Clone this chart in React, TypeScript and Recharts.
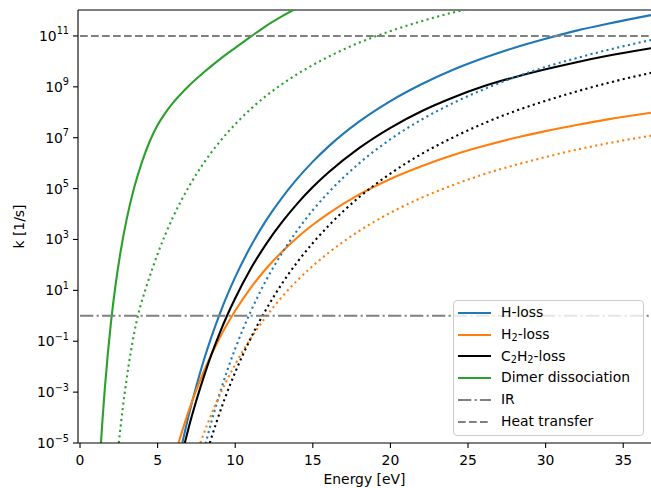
import React from "react";
import { LineChart, Line, XAxis, YAxis, ReferenceLine, Legend } from "recharts";

// energies [eV] and log10(k [1/s])
const hLossE = [6.59, 7.0, 7.5, 8.0, 8.5, 9.0, 9.5, 10, 11, 12, 13, 14, 15, 16, 18, 20, 22, 24, 26, 28, 30, 32, 34, 36.79];
const hLossK = [-5.0, -3.92, -2.75, -1.7, -0.77, 0.07, 0.83, 1.52, 2.73, 3.76, 4.63, 5.39, 6.06, 6.65, 7.64, 8.44, 9.1, 9.66, 10.13, 10.54, 10.89, 11.21, 11.48, 11.82];

const h2LossE = [6.35, 6.8, 7.3, 8, 9, 10, 11, 12, 13, 14, 15, 16, 18, 20, 22, 24, 26, 28, 30, 32, 34, 36.79];
const h2LossK = [-5.0, -4.11, -3.23, -2.15, -0.86, 0.2, 1.1, 1.86, 2.51, 3.08, 3.58, 4.02, 4.77, 5.38, 5.88, 6.31, 6.67, 6.99, 7.26, 7.5, 7.72, 7.98];

const c2h2LossE = [6.75, 7.0, 7.5, 8, 8.5, 9, 9.5, 10, 11, 12, 13, 14, 15, 16, 18, 20, 22, 24, 26, 28, 30, 32, 34, 36.79];
const c2h2LossK = [-5.0, -4.4, -3.32, -2.35, -1.47, -0.68, 0.04, 0.69, 1.85, 2.83, 3.67, 4.41, 5.06, 5.63, 6.6, 7.39, 8.04, 8.57, 9.02, 9.38, 9.69, 9.97, 10.22, 10.52];

const dimerE = [1.35, 1.45, 1.6, 1.8, 2.0, 2.3, 2.6, 3.0, 3.5, 4.0, 4.5, 5.0, 5.5, 6.0, 6.5, 7.0, 8.0, 9.0, 10.0, 11.0, 12.0, 13.0, 13.74, 14.5];
const dimerK = [-5.0, -4.07, -2.84, -1.43, -0.23, 1.26, 2.47, 3.78, 5.06, 6.06, 6.87, 7.5, 7.98, 8.38, 8.72, 9.03, 9.58, 10.08, 10.53, 10.97, 11.4, 11.77, 12.02, 12.26];

// dotted curves
const hLossDotE = [8.0, 8.5, 9, 9.5, 10, 11, 12, 13, 14, 15, 16, 18, 20, 22, 24, 26, 28, 30, 32, 34, 36.79];
const hLossDotK = [-5.24, -4.09, -3.06, -2.13, -1.29, 0.17, 1.41, 2.45, 3.36, 4.15, 4.84, 6.0, 6.94, 7.71, 8.35, 8.9, 9.37, 9.78, 10.13, 10.45, 10.84];

const h2LossDotE = [7.75, 8.2, 8.8, 9.5, 10.5, 11.5, 12.5, 14, 15, 16, 18, 20, 22, 24, 26, 28, 30, 32, 34, 36.79];
const h2LossDotK = [-5.0, -4.27, -3.39, -2.49, -1.38, -0.44, 0.37, 1.39, 1.96, 2.47, 3.34, 4.05, 4.64, 5.13, 5.56, 5.92, 6.24, 6.53, 6.78, 7.08];

const c2h2LossDotE = [8.36, 8.8, 9.3, 10, 11, 12, 13, 14, 15, 16, 18, 20, 22, 24, 26, 28, 30, 32, 34, 36.79];
const c2h2LossDotK = [-5.0, -4.17, -3.3, -2.22, -0.88, 0.26, 1.25, 2.11, 2.86, 3.53, 4.67, 5.59, 6.36, 7.0, 7.56, 8.04, 8.45, 8.82, 9.15, 9.55];

const dimerDotE = [2.5, 2.75, 3.0, 3.25, 3.5, 3.75, 4.3, 5, 6, 7, 8, 9, 10, 11, 12, 13, 14, 16, 18, 20, 22, 24.5, 25];
const dimerDotK = [-5.0, -3.65, -2.5, -1.5, -0.65, 0.05, 1.19, 2.43, 3.89, 5.06, 6.03, 6.84, 7.53, 8.13, 8.65, 9.1, 9.5, 10.18, 10.74, 11.19, 11.58, 11.99, 12.06];

const irLogK = 0;
const heatLogK = 11;

const xTicks = [0, 5, 10, 15, 20, 25, 30, 35];
const yTicks = [-5, -3, -1, 1, 3, 5, 7, 9, 11];

const X_MIN = -0.13;
const X_MAX = 36.79;
const Y_MIN = -5;
const Y_MAX = 12.02;

const BLUE = "#1f77b4";
const ORANGE = "#ff7f0e";
const GREEN = "#2ca02c";
const GRAY = "#808080";
const FONT = "DejaVu Sans, sans-serif";
const LW = 2.1;
const DOTTED = "2.1 3.4";
const DASHED = "7.7 3.3";
const DASHDOT = "13.3 3.3 2.1 3.3";

const pts = (e: number[], k: number[]) => e.map((v, i) => ({ e: v, k: k[i] }));

const series = [
  { id: "h", data: pts(hLossE, hLossK), color: BLUE },
  { id: "h2", data: pts(h2LossE, h2LossK), color: ORANGE },
  { id: "c2h2", data: pts(c2h2LossE, c2h2LossK), color: "#000000" },
  { id: "dimer", data: pts(dimerE, dimerK), color: GREEN },
  { id: "h-dot", data: pts(hLossDotE, hLossDotK), color: BLUE, dash: DOTTED },
  { id: "h2-dot", data: pts(h2LossDotE, h2LossDotK), color: ORANGE, dash: DOTTED },
  { id: "c2h2-dot", data: pts(c2h2LossDotE, c2h2LossDotK), color: "#000000", dash: DOTTED },
  { id: "dimer-dot", data: pts(dimerDotE, dimerDotK), color: GREEN, dash: DOTTED },
];

const subStyle: React.CSSProperties = { fontSize: "70%", verticalAlign: "-0.25em", lineHeight: 0 };

const legendRows = [
  { label: <>H-loss</>, color: BLUE, dash: undefined },
  { label: <>H<sub style={subStyle}>2</sub>-loss</>, color: ORANGE, dash: undefined },
  { label: <>C<sub style={subStyle}>2</sub>H<sub style={subStyle}>2</sub>-loss</>, color: "#000000", dash: undefined },
  { label: <>Dimer dissociation</>, color: GREEN, dash: undefined },
  { label: <>IR</>, color: GRAY, dash: DASHDOT },
  { label: <>Heat transfer</>, color: GRAY, dash: DASHED },
];

const renderLegend = () => (
  <div
    style={{
      boxSizing: "border-box",
      width: 191,
      height: 136,
      border: "1px solid #cccccc",
      borderRadius: 4,
      background: "rgba(255,255,255,0.8)",
      paddingTop: 1,
      fontFamily: FONT,
      fontSize: 13.9,
      color: "#000",
    }}
  >
    {legendRows.map((r, i) => (
      <div key={i} style={{ display: "flex", alignItems: "center", height: 21.8, lineHeight: "21.8px" }}>
        <svg width={33} height={6} style={{ marginLeft: 4, flex: "none" }}>
          <line x1={0} y1={3} x2={33} y2={3} stroke={r.color} strokeWidth={LW} strokeDasharray={r.dash} />
        </svg>
        <span style={{ marginLeft: 10, whiteSpace: "nowrap" }}>{r.label}</span>
      </div>
    ))}
  </div>
);

const XTick = ({ x, y, payload }: any) => (
  <text x={x} y={y + 15} textAnchor="middle" fontSize={13.9} fontFamily={FONT} fill="#000">
    {payload.value}
  </text>
);

const YTick = ({ x, y, payload }: any) => {
  const n = payload.value as number;
  const exp = n < 0 ? `\u2212${-n}` : `${n}`;
  return (
    <text x={x - 2} y={y + 5} textAnchor="end" fontSize={13.9} fontFamily={FONT} fill="#000">
      10
      <tspan dy={-6.5} fontSize={9.7}>
        {exp}
      </tspan>
    </text>
  );
};

const YLabel = () => (
  <text
    x={23.5}
    y={226.5}
    transform="rotate(-90, 23.5, 226.5)"
    textAnchor="middle"
    fontSize={13.9}
    fontFamily={FONT}
    fill="#000"
  >
    k [1/s]
  </text>
);

export default function App() {
  return (
    <div style={{ position: "absolute", left: 0, top: 0, fontFamily: FONT }}>
      <LineChart width={651} height={488} margin={{ top: 10, right: 0, left: 0, bottom: 0 }}>
        <XAxis
          type="number"
          dataKey="e"
          domain={[X_MIN, X_MAX]}
          ticks={xTicks}
          allowDataOverflow
          height={45}
          tickSize={5}
          axisLine={{ stroke: "#000", strokeWidth: 1.1 }}
          tickLine={{ stroke: "#000", strokeWidth: 1.1 }}
          tick={<XTick />}
          label={{ value: "Energy [eV]", position: "insideBottom", offset: 4, fill: "#000", fontSize: 13.9, fontFamily: FONT }}
        />
        <YAxis
          type="number"
          domain={[Y_MIN, Y_MAX]}
          ticks={yTicks}
          allowDataOverflow
          width={78}
          tickSize={5}
          axisLine={{ stroke: "#000", strokeWidth: 1.1 }}
          tickLine={{ stroke: "#000", strokeWidth: 1.1 }}
          tick={<YTick />}
          label={YLabel}
        />
        <ReferenceLine y={Y_MAX} stroke="#000" strokeWidth={1.1} />
        {series.map((s) => (
          <Line
            key={s.id}
            data={s.data}
            dataKey="k"
            type="monotone"
            stroke={s.color}
            strokeWidth={LW}
            strokeDasharray={s.dash}
            dot={false}
            activeDot={false}
            legendType="none"
            isAnimationActive={false}
          />
        ))}
        <ReferenceLine
          segment={[{ x: 0, y: irLogK }, { x: X_MAX, y: irLogK }]}
          stroke={GRAY}
          strokeWidth={LW}
          strokeDasharray={DASHDOT}
        />
        <ReferenceLine
          segment={[{ x: 0, y: heatLogK }, { x: X_MAX, y: heatLogK }]}
          stroke={GRAY}
          strokeWidth={LW}
          strokeDasharray={DASHED}
        />
        <Legend
          layout="horizontal"
          align="center"
          verticalAlign="middle"
          content={renderLegend}
          wrapperStyle={{ position: "absolute", left: 453, top: 300, width: 191, height: 136 }}
        />
      </LineChart>
    </div>
  );
}
